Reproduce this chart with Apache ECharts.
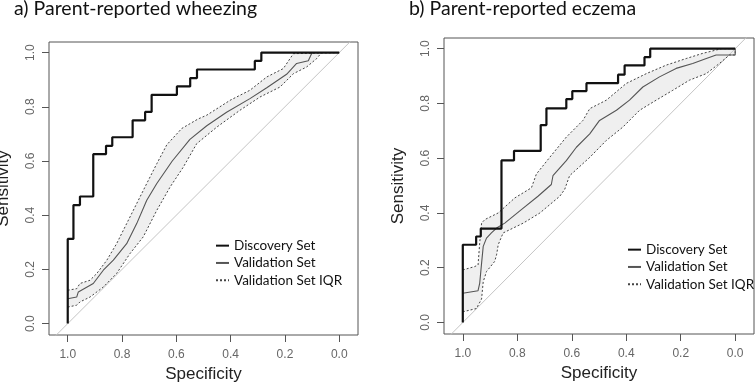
<!DOCTYPE html>
<html><head><meta charset="utf-8">
<script src="https://cdn.jsdelivr.net/npm/echarts@6/dist/echarts.min.js"></script>
<style>html,body{margin:0;padding:0;background:#fff}#c{width:755px;height:387px}</style>
</head><body><div id="c"></div>
<script>
// ---- data (specificity, sensitivity) ----
const tickValues = [0, 0.2, 0.4, 0.6, 0.8, 1.0];
const panelTitles = ['a) Parent-reported wheezing', 'b) Parent-reported eczema'];
const legendNames = ['Discovery Set', 'Validation Set', 'Validation Set IQR'];
const chanceLine = [[1.2, -0.2], [-0.2, 1.2]];

const aDiscovery = [[1,0],[1,0.3125],[0.979,0.3125],[0.979,0.4375],[0.955,0.4375],[0.955,0.469],[0.906,0.469],[0.906,0.625],[0.859,0.625],[0.859,0.656],[0.836,0.656],[0.836,0.6875],[0.761,0.6875],[0.761,0.75],[0.715,0.75],[0.715,0.781],[0.691,0.781],[0.691,0.844],[0.598,0.844],[0.598,0.875],[0.549,0.875],[0.549,0.906],[0.524,0.906],[0.524,0.9375],[0.311,0.9375],[0.311,0.969],[0.287,0.969],[0.287,1],[0,1]];
const aMedian = [[1,0.092],[0.967,0.098],[0.961,0.117],[0.906,0.148],[0.869,0.197],[0.832,0.234],[0.783,0.295],[0.746,0.369],[0.709,0.455],[0.672,0.517],[0.615,0.60],[0.55,0.68],[0.488,0.73],[0.415,0.78],[0.329,0.83],[0.267,0.87],[0.194,0.92],[0.157,0.96],[0.114,0.97],[0.10,1],[0,1]];
const aUpper = [[1,0.123],[0.967,0.129],[0.955,0.148],[0.918,0.16],[0.893,0.185],[0.856,0.234],[0.82,0.295],[0.783,0.369],[0.746,0.443],[0.709,0.517],[0.672,0.59],[0.635,0.66],[0.58,0.72],[0.52,0.755],[0.488,0.769],[0.402,0.824],[0.329,0.861],[0.267,0.91],[0.206,0.941],[0.169,0.996],[0.163,1],[0,1]];
const aLower = [[1,0.061],[0.967,0.068],[0.955,0.08],[0.918,0.098],[0.869,0.135],[0.82,0.185],[0.771,0.258],[0.722,0.32],[0.672,0.418],[0.623,0.504],[0.574,0.578],[0.525,0.664],[0.451,0.725],[0.366,0.787],[0.292,0.836],[0.218,0.873],[0.169,0.922],[0.12,0.947],[0.083,0.978],[0.065,1],[0,1]];

const bDiscovery = [[1,0],[1,0.284],[0.951,0.284],[0.951,0.314],[0.934,0.314],[0.934,0.343],[0.858,0.343],[0.858,0.592],[0.812,0.592],[0.812,0.627],[0.714,0.627],[0.714,0.721],[0.693,0.721],[0.693,0.782],[0.62,0.782],[0.62,0.816],[0.598,0.816],[0.598,0.845],[0.546,0.845],[0.546,0.874],[0.43,0.874],[0.43,0.905],[0.406,0.905],[0.406,0.939],[0.333,0.939],[0.333,0.969],[0.312,0.969],[0.312,1],[0,1]];
const bMedian = [[1,0.107],[0.944,0.116],[0.938,0.143],[0.931,0.217],[0.925,0.278],[0.913,0.308],[0.895,0.327],[0.876,0.345],[0.846,0.363],[0.785,0.412],[0.724,0.461],[0.675,0.504],[0.669,0.536],[0.62,0.591],[0.583,0.64],[0.534,0.689],[0.498,0.738],[0.436,0.775],[0.388,0.812],[0.339,0.86],[0.278,0.897],[0.217,0.928],[0.156,0.946],[0.106,0.964],[0.07,0.977],[0,0.977],[0,1]];
const bUpper = [[1,0.192],[0.957,0.204],[0.944,0.21],[0.938,0.29],[0.931,0.363],[0.919,0.376],[0.87,0.40],[0.809,0.455],[0.748,0.492],[0.73,0.542],[0.681,0.603],[0.62,0.677],[0.559,0.738],[0.534,0.781],[0.473,0.812],[0.4,0.873],[0.326,0.909],[0.253,0.94],[0.18,0.964],[0.119,0.983],[0.07,0.995],[0.05,1],[0,1]];
const bLower = [[1,0.039],[0.95,0.051],[0.931,0.086],[0.925,0.149],[0.913,0.186],[0.883,0.223],[0.876,0.247],[0.87,0.284],[0.852,0.327],[0.815,0.345],[0.778,0.363],[0.717,0.40],[0.644,0.461],[0.626,0.486],[0.608,0.536],[0.534,0.603],[0.473,0.665],[0.412,0.714],[0.351,0.775],[0.29,0.812],[0.229,0.848],[0.168,0.885],[0.106,0.909],[0.058,0.946],[0.021,0.977],[0,0.977],[0,1]];

const panels = [
  {disc: aDiscovery, med: aMedian, up: aUpper, lo: aLower},
  {disc: bDiscovery, med: bMedian, up: bUpper, lo: bLower}
];

const labelFont = 'Liberation Sans, Arial, sans-serif';
const calFont = 'Lato, Carlito, sans-serif';

const grids = [
  {left: 49, top: 42, width: 309, height: 293},
  {left: 444, top: 38, width: 310, height: 296}
];

function xAxisFor(i) {
  return {
    type: 'value', gridIndex: i, inverse: true, min: -0.069, max: 1.069,
    name: 'Specificity', nameLocation: 'middle', nameGap: 31,
    nameTextStyle: {fontFamily: labelFont, fontSize: 17, color: '#222'},
    axisLine: {show: false, onZero: false}, splitLine: {show: false},
    axisTick: {show: true, length: 7, customValues: tickValues, lineStyle: {color: '#555', width: 1}},
    axisLabel: {customValues: tickValues, margin: 14, fontFamily: labelFont, fontSize: 12, color: '#666',
      formatter: v => v.toFixed(1)}
  };
}
function yAxisFor(i) {
  return {
    type: 'value', gridIndex: i, min: -0.042, max: 1.039, position: 'left',
    name: 'Sensitivity', nameLocation: 'middle', nameGap: 37, nameRotate: 90,
    nameTextStyle: {fontFamily: labelFont, fontSize: 17, color: '#222'},
    axisLine: {show: false, onZero: false}, splitLine: {show: false},
    axisTick: {show: true, length: 7, customValues: tickValues, lineStyle: {color: '#555', width: 1}},
    axisLabel: {customValues: tickValues, rotate: 90, margin: 12, fontFamily: labelFont, fontSize: 12, color: '#666',
      formatter: v => v.toFixed(1)}
  };
}

const series = [];
panels.forEach((p, i) => {
  series.push({
    type: 'custom', xAxisIndex: i, yAxisIndex: i, silent: true, z: 1,
    data: [[0.5, 0.5]],
    renderItem: (params, api) => {
      const pts = p.up.map(d => api.coord(d)).concat(p.lo.slice().reverse().map(d => api.coord(d)));
      return {type: 'polygon', shape: {points: pts}, style: {fill: '#efefef', stroke: null}};
    }
  });
  series.push({type: 'line', name: 'chance', xAxisIndex: i, yAxisIndex: i, data: chanceLine, symbol: 'none',
    clip: true, silent: true, z: 2, color: '#c4c4c4', lineStyle: {color: '#c4c4c4', width: 1}});
  series.push({type: 'line', name: 'Validation Set IQR', xAxisIndex: i, yAxisIndex: i, data: p.up, symbol: 'none', z: 3,
    color: '#444', lineStyle: {color: '#444', width: 1, type: [2, 2]}});
  series.push({type: 'line', name: 'Validation Set IQR', xAxisIndex: i, yAxisIndex: i, data: p.lo, symbol: 'none', z: 3,
    color: '#444', lineStyle: {color: '#444', width: 1, type: [2, 2]}});
  series.push({type: 'line', name: 'Validation Set', xAxisIndex: i, yAxisIndex: i, data: p.med, symbol: 'none', z: 4,
    color: '#555', lineStyle: {color: '#555', width: 1.1}});
  series.push({type: 'line', name: 'Discovery Set', xAxisIndex: i, yAxisIndex: i, data: p.disc, symbol: 'none', z: 5,
    color: '#111', lineStyle: {color: '#111', width: 2.2}});
});

const legendCommon = {
  orient: 'vertical', data: legendNames, selectedMode: false, itemWidth: 13, itemHeight: 14, itemGap: 0,
  padding: 0, itemStyle: {opacity: 0, borderWidth: 0},
  textStyle: {fontFamily: calFont, fontSize: 13.5, lineHeight: 17.3, color: '#111'}
};

const chart = echarts.init(document.getElementById('c'), null, {renderer: 'canvas'});
chart.setOption({
  animation: false,
  backgroundColor: '#fff',
  title: [
    {text: panelTitles[0], left: 14, top: -1, padding: 0, textStyle: {fontFamily: calFont, fontWeight: 'normal', fontSize: 19.5, color: '#111'}},
    {text: panelTitles[1], left: 409, top: -1, padding: 0, textStyle: {fontFamily: calFont, fontWeight: 'normal', fontSize: 19.5, color: '#111'}}
  ],
  legend: [
    Object.assign({left: 215, top: 237}, legendCommon),
    Object.assign({left: 627, top: 241}, legendCommon)
  ],
  grid: grids.map(g => Object.assign({show: true, borderColor: '#555', borderWidth: 1, backgroundColor: 'transparent', outerBoundsMode: 'none'}, g)),
  xAxis: [xAxisFor(0), xAxisFor(1)],
  yAxis: [yAxisFor(0), yAxisFor(1)],
  series: series
});
</script></body></html>
